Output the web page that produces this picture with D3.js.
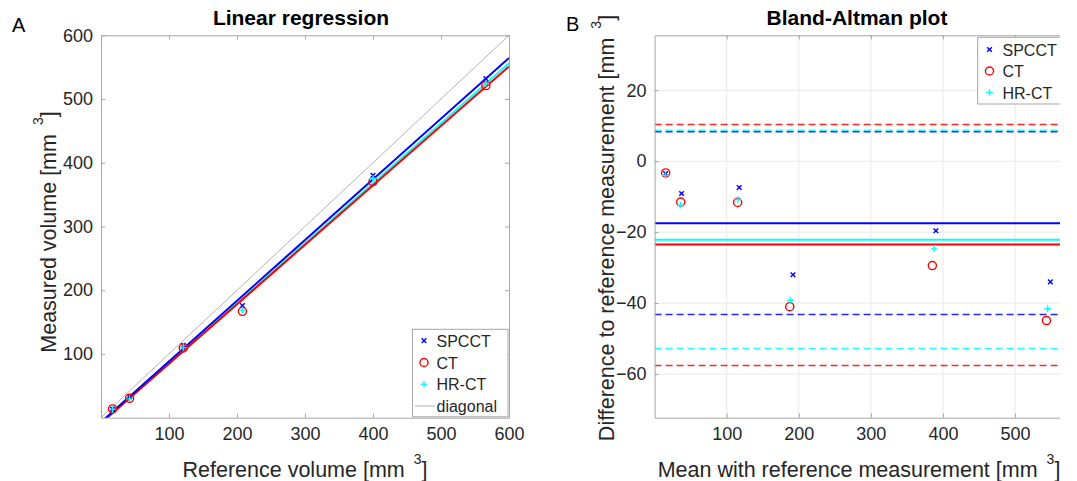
<!DOCTYPE html>
<html>
<head>
<meta charset="utf-8">
<script src="https://cdn.jsdelivr.net/npm/d3@7"></script>
<style>
  body { margin: 0; background: #fff; }
  svg { font-family: "Liberation Sans", Arial, sans-serif; }
</style>
</head>
<body>
<div id="chart"></div>
<script>
// data
const methods = ["SPCCT", "CT", "HR-CT"];
const refVolume = [17, 42, 121, 208, 400, 566];
const measSPCCT = [13.5, 32.9, 113.6, 176, 380.4, 532];
const measCT = [13.7, 30.5, 109.4, 167, 370.6, 521.1];
const measHRCT = [13, 29.6, 110.2, 168.8, 375.3, 524.4];
const fitSlope = [0.952, 0.933, 0.942];
const fitIntercept = [-6.8, -8.6, -9.1];
const baMean = [-17.5, -23.5, -22.1];
const baUpper = [8.3, 10.35, 8.75];
const baLower = [-43.2, -57.6, -52.8];
const leftTicks = [100, 200, 300, 400, 500, 600];
const baXTicks = [100, 200, 300, 400, 500];
const baYTicks = [-60, -40, -20, 0, 20];

const colors = ["#0000ff", "#ff0000", "#00ffff"];
const measured = [measSPCCT, measCT, measHRCT];
const axisColor = "#a6a6a6";
const textColor = "#262626";

const width = 1077, height = 481;
const svg = d3.select("#chart").append("svg")
    .attr("width", width)
    .attr("height", height);

const symbols = [
    d3.symbol(d3.symbolTimes, 16),
    d3.symbol(d3.symbolCircle, 52),
    d3.symbol(d3.symbolPlus, 16)
];

function drawMarker(g, i, x, y) {
    g.append("path")
        .attr("d", symbols[i]())
        .attr("transform", `translate(${x},${y})`)
        .attr("fill", "none")
        .attr("stroke", colors[i])
        .attr("stroke-width", 1.4);
}

// ---------- panel A: linear regression ----------
const A = { left: 101, right: 509, top: 35.3, bottom: 417.7 };
const xA = d3.scaleLinear().domain([0, 600]).range([A.left, A.right]);
const yA = d3.scaleLinear().domain([0, 600]).range([A.bottom, A.top]);

svg.append("clipPath").attr("id", "clipA")
    .append("rect")
    .attr("x", A.left).attr("y", A.top)
    .attr("width", A.right - A.left).attr("height", A.bottom - A.top);

const gA = svg.append("g");
const plotA = gA.append("g").attr("clip-path", "url(#clipA)");

// diagonal
plotA.append("line")
    .attr("x1", xA(0)).attr("y1", yA(0))
    .attr("x2", xA(600)).attr("y2", yA(600))
    .attr("stroke", "#b3b3b3").attr("stroke-width", 1);

// regression lines
[2, 1, 0].forEach(i => {
    plotA.append("line")
        .attr("x1", xA(0)).attr("y1", yA(fitIntercept[i]))
        .attr("x2", xA(600)).attr("y2", yA(fitSlope[i] * 600 + fitIntercept[i]))
        .attr("stroke", colors[i]).attr("stroke-width", 2);
});

// points
measured.forEach((vals, i) => {
    vals.forEach((v, k) => drawMarker(plotA, i, xA(refVolume[k]), yA(v)));
});

// axes (box with inner ticks)
function boxAxes(g, x, y, xTicks, yTicks, box) {
    g.append("g").attr("transform", `translate(0,${box.bottom})`)
        .call(d3.axisBottom(x).tickValues(xTicks).tickSize(-4).tickPadding(10).tickSizeOuter(0));
    g.append("g").attr("transform", `translate(0,${box.top})`)
        .call(d3.axisTop(x).tickValues(xTicks).tickSize(-4).tickFormat("").tickSizeOuter(0));
    g.append("g").attr("transform", `translate(${box.left},0)`)
        .call(d3.axisLeft(y).tickValues(yTicks).tickSize(-4).tickPadding(8).tickSizeOuter(0));
    g.append("g").attr("transform", `translate(${box.right},0)`)
        .call(d3.axisRight(y).tickValues(yTicks).tickSize(-4).tickFormat("").tickSizeOuter(0));
    g.selectAll(".domain, .tick line").attr("stroke", axisColor);
    g.selectAll(".tick text").attr("fill", textColor).attr("font-size", 18)
        .attr("font-family", "Liberation Sans, Arial, sans-serif");
}

const axA = gA.append("g");
boxAxes(axA, xA, yA, leftTicks, leftTicks, A);

// legend A
const legA = gA.append("g");
legA.append("rect")
    .attr("x", 412.5).attr("y", 329.3).attr("width", 95.5).attr("height", 87.5)
    .attr("fill", "#fff").attr("stroke", axisColor).attr("stroke-width", 1);
const legRowsA = [340.7, 362.5, 384.3, 406];
methods.forEach((m, i) => {
    drawMarker(legA, i, 424, legRowsA[i]);
    legA.append("text").attr("x", 436.5).attr("y", legRowsA[i] + 6)
        .attr("font-size", 16).attr("fill", textColor).text(m);
});
legA.append("line").attr("x1", 415).attr("x2", 435)
    .attr("y1", legRowsA[3]).attr("y2", legRowsA[3])
    .attr("stroke", "#b3b3b3").attr("stroke-width", 1);
legA.append("text").attr("x", 436.5).attr("y", legRowsA[3] + 6)
    .attr("font-size", 16).attr("fill", textColor).text("diagonal");

// titles and labels A
gA.append("text").attr("x", 301).attr("y", 25)
    .attr("text-anchor", "middle").attr("font-weight", "bold")
    .attr("font-size", 21).attr("fill", "#000").text("Linear regression");

function cubedLabel(g, str, tx, ty, rot) {
    const t = g.append("text")
        .attr("transform", `translate(${tx},${ty}) rotate(${rot})`)
        .attr("text-anchor", "middle").attr("font-size", 21.5).attr("fill", textColor);
    t.append("tspan").text(str);
    t.append("tspan").attr("dx", 9).attr("dy", -13).attr("font-size", 14).text("3");
    t.append("tspan").attr("dy", 13).text("]");
}
cubedLabel(gA, "Reference volume [mm", 305, 477, 0);
cubedLabel(gA, "Measured volume [mm", 56, 232, -90);

svg.append("text").attr("x", 12).attr("y", 32).attr("font-size", 20)
    .attr("fill", "#000").text("A");

// ---------- panel B: Bland-Altman ----------
const B = { left: 654.6, right: 1065.5, top: 35.3, bottom: 417.7 };
const xB = d3.scaleLinear().domain([0, 570]).range([B.left, B.right]);
const yB = d3.scaleLinear().domain([-72.3, 35.5]).range([B.bottom, B.top]);

// the figure is cut at the right edge
svg.append("clipPath").attr("id", "clipPanelB")
    .append("rect").attr("x", 540).attr("y", -20).attr("width", 1060 - 540).attr("height", height + 40);
svg.append("clipPath").attr("id", "clipB")
    .append("rect")
    .attr("x", B.left).attr("y", B.top)
    .attr("width", B.right - B.left).attr("height", B.bottom - B.top);

const gB = svg.append("g").attr("clip-path", "url(#clipPanelB)");

// grid
gB.append("g").selectAll("line").data(baXTicks).join("line")
    .attr("x1", d => xB(d)).attr("x2", d => xB(d))
    .attr("y1", B.top).attr("y2", B.bottom)
    .attr("stroke", "#e8e8e8");
gB.append("g").selectAll("line").data(baYTicks).join("line")
    .attr("x1", B.left).attr("x2", B.right)
    .attr("y1", d => yB(d)).attr("y2", d => yB(d))
    .attr("stroke", "#e8e8e8");

const plotB = gB.append("g").attr("clip-path", "url(#clipB)");

// limits of agreement and means
[1, 2, 0].forEach(i => {
    [baUpper[i], baLower[i]].forEach(v => {
        plotB.append("line")
            .attr("x1", B.left).attr("x2", B.right)
            .attr("y1", yB(v)).attr("y2", yB(v))
            .attr("stroke", colors[i]).attr("stroke-width", 1.5)
            .attr("stroke-dasharray", "7,4").attr("opacity", 0.85);
    });
});
[1, 2, 0].forEach(i => {
    plotB.append("line")
        .attr("x1", B.left).attr("x2", B.right)
        .attr("y1", yB(baMean[i])).attr("y2", yB(baMean[i]))
        .attr("stroke", colors[i]).attr("stroke-width", 2);
});

// points: mean of both vs difference
measured.forEach((vals, i) => {
    vals.forEach((v, k) => {
        const mean = (v + refVolume[k]) / 2;
        const diff = v - refVolume[k];
        drawMarker(plotB, i, xB(mean), yB(diff));
    });
});

const axB = gB.append("g");
boxAxes(axB, xB, yB, baXTicks, baYTicks, B);

// legend B
const legB = gB.append("g");
legB.append("rect")
    .attr("x", 977.7).attr("y", 37.3).attr("width", 83).attr("height", 66.7)
    .attr("fill", "#fff").attr("stroke", axisColor).attr("stroke-width", 1);
const legRowsB = [49.5, 71, 92.5];
methods.forEach((m, i) => {
    drawMarker(legB, i, 989.5, legRowsB[i]);
    legB.append("text").attr("x", 1002.5).attr("y", legRowsB[i] + 6)
        .attr("font-size", 16).attr("fill", textColor).text(m);
});

svg.append("text").attr("x", 857).attr("y", 25)
    .attr("text-anchor", "middle").attr("font-weight", "bold")
    .attr("font-size", 21).attr("fill", "#000").text("Bland-Altman plot");

cubedLabel(svg, "Mean with reference measurement [mm", 859, 477, 0);
cubedLabel(svg, "Difference to reference measurement [mm", 614, 228, -90);

svg.append("text").attr("x", 566).attr("y", 31).attr("font-size", 20)
    .attr("fill", "#000").text("B");
</script>
</body>
</html>
